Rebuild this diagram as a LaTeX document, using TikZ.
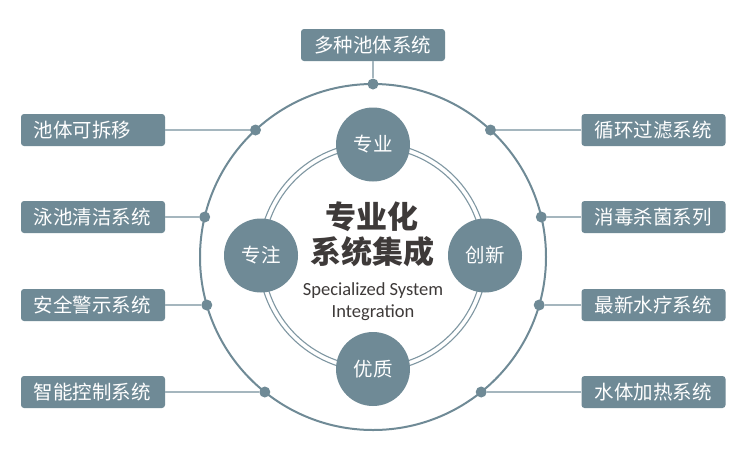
\documentclass[tikz,border=0pt]{standalone}
\usepackage{fontspec}
\usetikzlibrary{positioning, calc}
\newfontfamily\cjk{Noto Sans CJK SC}
\newfontfamily\latinsans{Carlito}
\definecolor{slate}{HTML}{6F8A96}
\definecolor{ringgray}{HTML}{7F97A2}
\definecolor{linkgray}{HTML}{A5B6BE}
\definecolor{inkdark}{HTML}{3E3A39}

\begin{document}
\begin{tikzpicture}[
    x=1pt, y=-1pt,
    tagbox/.style={fill=slate, rounded corners=3pt, minimum width=144pt,
      minimum height=32pt, inner xsep=13pt, inner ysep=0pt, text width=118pt,
      align=left, text=white, font=\cjk\fontsize{19.5}{20}\selectfont},
    pillar/.style={circle, fill=slate, minimum size=74pt, inner sep=0pt,
      text=white, font=\cjk\fontsize{19.5}{20}\selectfont},
    joint/.style={circle, fill=slate, minimum size=11pt, inner sep=0pt},
    link/.style={linkgray, line width=2pt},
    rim/.style={slate, line width=2pt},
  ]

  % Background and frame
  \fill[white] (0,0) rectangle (750,459);

  \coordinate (hub) at (373,257);

  % ===== Outer ring =====
  \draw[rim] (hub) circle (173pt);

  % ===== Inner double ring =====
  \draw[ringgray, line width=1.1pt] (hub) circle (109.5pt);
  \draw[ringgray, line width=1.1pt] (hub) circle (114.5pt);

  % Four pillars on the ring
  \node[pillar] (zhuanye) at ($(hub)+(0,-112.5)$) {专业};
  \node[pillar] (zhuanzhu) at ($(hub)+(-112,-1.5)$) {专注};
  \node[pillar] (chuangxin) at ($(hub)+(112,-1.5)$) {创新};
  \node[pillar] (youzhi) at ($(hub)+(0,112)$) {优质};

  % Centre title
  \node[font=\cjk\bfseries\fontsize{31}{35}\selectfont, text=inkdark, align=center]
    (headline) at (372,234.5) {专业化\\系统集成};
  \node[font=\latinsans\fontsize{18.5}{22.5}\selectfont, text=inkdark, align=center]
    (subline) at (373,301.5) {Specialized System\\Integration};

  % ===== Top branch =====
  \node[tagbox] (tTop) at (373,45) {多种池体系统};
  \node[joint] (jTop) at (373,84) {};
  \draw[link] (tTop.south) -- (jTop);

  % ===== Left branches =====
  \node[tagbox] (tL1) at (93,130) {池体可拆移};
  \node[tagbox] (tL2) at (93,217) {泳池清洁系统};
  \node[tagbox] (tL3) at (93,305) {安全警示系统};
  \node[tagbox] (tL4) at (93,392) {智能控制系统};

  \node[joint] (jL1) at (255.5,130) {};
  \node[joint] (jL2) at (204.7,217) {};
  \node[joint] (jL3) at (206.8,305) {};
  \node[joint] (jL4) at (264.8,392) {};

  \draw[link] (tL1.east) -- (jL1);
  \draw[link] (tL2.east) -- (jL2);
  \draw[link] (tL3.east) -- (jL3);
  \draw[link] (tL4.east) -- (jL4);

  % ===== Right branches =====
  \node[tagbox] (tR1) at (653.5,130) {循环过滤系统};
  \node[tagbox] (tR2) at (653.5,217) {消毒杀菌系列};
  \node[tagbox] (tR3) at (653.5,305) {最新水疗系统};
  \node[tagbox] (tR4) at (653.5,392) {水体加热系统};

  \node[joint] (jR1) at (490.5,130) {};
  \node[joint] (jR2) at (541.3,217) {};
  \node[joint] (jR3) at (539.2,305) {};
  \node[joint] (jR4) at (481.2,392) {};

  \draw[link] (tR1.west) -- (jR1);
  \draw[link] (tR2.west) -- (jR2);
  \draw[link] (tR3.west) -- (jR3);
  \draw[link] (tR4.west) -- (jR4);

\end{tikzpicture}
\end{document}
